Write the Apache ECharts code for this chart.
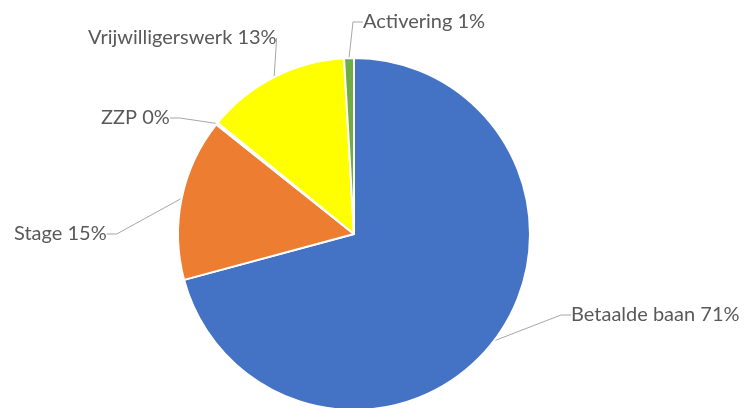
<!DOCTYPE html>
<html>
<head>
<meta charset="utf-8">
<script src="https://cdn.jsdelivr.net/npm/echarts@6/dist/echarts.min.js"></script>
<style>html,body{margin:0;padding:0;background:#fff}#c{width:746px;height:408px}</style>
</head>
<body>
<div id="c"></div>
<script>
var categories = ['Betaalde baan', 'Stage', 'ZZP', 'Vrijwilligerswerk', 'Activering'];
var values = [70.8, 14.9, 0.2, 13.2, 0.9];
var colors = ['#4472C4', '#ED7D31', '#A5A5A5', '#FFFF00', '#70AD47'];
// label anchor positions (left edge, vertical middle), layout only
var labelPos = [[571, 315], [14, 234], [101, 118], [88, 38], [363, 22]];

var chart = echarts.init(document.getElementById('c'));
chart.setOption({
  animation: false,
  series: [{
    type: 'pie',
    center: [354, 234],
    radius: 176,
    startAngle: 90,
    clockwise: true,
    data: categories.map(function (n, i) {
      return { name: n, value: values[i], itemStyle: { color: colors[i] } };
    }),
    itemStyle: { borderColor: '#fff', borderWidth: 2 },
    label: {
      show: true,
      color: '#595959',
      fontFamily: 'Lato',
      fontSize: 20,
      formatter: function (p) { return p.name + ' ' + Math.round(p.percent) + '%'; }
    },
    labelLine: { show: true, lineStyle: { color: '#A6A6A6', width: 1 }, length: 10, length2: 10 },
    labelLayout: function (p) {
      var pos = labelPos[p.dataIndex];
      return { x: pos[0], y: pos[1], align: 'left', verticalAlign: 'middle' };
    }
  }]
});
</script>
</body>
</html>
